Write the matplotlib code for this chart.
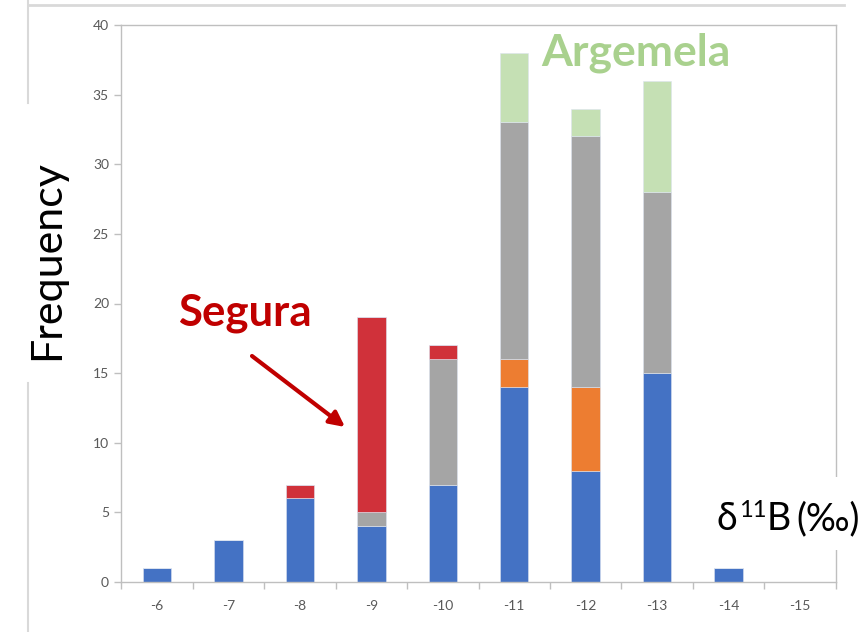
import matplotlib
matplotlib.use("Agg")
import matplotlib.pyplot as plt
from matplotlib.lines import Line2D
from matplotlib.patches import Rectangle
import numpy as np

# delta-11B classes (per mil) and counts per group
categories = ["-6", "-7", "-8", "-9", "-10", "-11", "-12", "-13", "-14", "-15"]
blue = [1, 3, 6, 4, 7, 14, 8, 15, 1, 0]
orange = [0, 0, 0, 0, 0, 2, 6, 0, 0, 0]
gray = [0, 0, 0, 1, 9, 17, 18, 13, 0, 0]
red = [0, 0, 1, 14, 1, 0, 0, 0, 0, 0]
green = [0, 0, 0, 0, 0, 5, 2, 8, 0, 0]
y_ticks = [0, 5, 10, 15, 20, 25, 30, 35, 40]

series = [
    (blue, "#4472C4"),
    (orange, "#ED7D31"),
    (gray, "#A5A5A5"),
    (red, "#D0313A"),
    (green, "#C5E0B4"),
]

FONT = ["Lato", "DejaVu Sans"]
plt.rcParams["font.family"] = FONT

W, H = 868, 632
fig = plt.figure(figsize=(W / 100, H / 100), dpi=100)
ax = fig.add_axes([121.5 / W, 50 / H, (835.5 - 121.5) / W, (582 - 25) / H])

x = np.arange(len(categories))
bottom = np.zeros(len(categories))
for vals, col in series:
    v = np.array(vals, dtype=float)
    ax.bar(x, v, width=0.4, bottom=bottom, color=col,
           edgecolor="#DCE3F0", linewidth=0.4, zorder=2)
    bottom += v

ax.set_xlim(-0.5, len(categories) - 0.5)
ax.set_ylim(0, 40)
ax.set_yticks(y_ticks)
ax.set_yticklabels([str(t) for t in y_ticks])
ax.set_xticks(x)
ax.set_xticklabels(categories)
ax.set_xticks(np.arange(-0.5, len(categories), 1.0), minor=True)

axis_col = "#BFBFBF"
for s in ax.spines.values():
    s.set_color(axis_col)
    s.set_linewidth(1.0)

ax.tick_params(axis="x", which="major", length=0, pad=13,
               labelsize=10, labelcolor="#595959")
ax.tick_params(axis="x", which="minor", length=5, color=axis_col, width=1.0)
ax.tick_params(axis="y", which="major", length=5, color=axis_col, width=1.0,
               labelsize=10, labelcolor="#595959", pad=4)

# outer frame lines of the slide panel (broken behind the axis title)
frame_col = "#D9D9D9"
xf = 28.5 / W
fig.add_artist(Line2D([xf, xf], [1 - 103 / H, 1], color=frame_col,
                      linewidth=1.5, transform=fig.transFigure, zorder=0))
fig.add_artist(Line2D([xf, xf], [0, 1 - 383 / H], color=frame_col,
                      linewidth=1.5, transform=fig.transFigure, zorder=0))
fig.add_artist(Line2D([xf, 844 / W], [1 - 4.7 / H, 1 - 4.7 / H],
                      color=frame_col, linewidth=2.0,
                      transform=fig.transFigure, zorder=0))

# axis titles and group labels
fig.text(47 / W, 1 - 260 / H, "Frequency", rotation=90, ha="center",
         va="center", fontsize=31, color="black", zorder=5)

fig.text(245 / W, 1 - 313 / H, "Segura", ha="center", va="center",
         fontsize=31.5, fontweight="bold", color="#C00000", zorder=5)

fig.text(636 / W, 1 - 53 / H, "Argemela", ha="center", va="center",
         fontsize=32, fontweight="bold", color="#A9D18E", zorder=5)

# white box hiding the plot border behind the x-axis title
fig.add_artist(Rectangle((705 / W, 1 - 550 / H), 163 / W, 73 / H,
                         facecolor="white", edgecolor="none",
                         transform=fig.transFigure, zorder=4))

# x-axis title built from pieces so the superscript sits like typeset text
renderer = fig.canvas.get_renderer()
base_y = 1 - 530 / H
pieces = [("δ", 27, 0, 0), ("11", 17, 13, 1), ("B", 27, 0, 1),
          ("(‰)", 27, 0, 5)]
cur_x = 717.0
for txt, size, rise, gap in pieces:
    t = fig.text((cur_x + gap) / W, base_y + rise / H, txt, ha="left",
                 va="baseline", fontsize=size, color="black", zorder=5)
    cur_x = t.get_window_extent(renderer).x1

ax.annotate("", xy=(345 / W, 1 - 427 / H), xytext=(252 / W, 1 - 356 / H),
            xycoords="figure fraction", textcoords="figure fraction",
            arrowprops=dict(arrowstyle="-|>,head_length=0.9,head_width=0.45",
                            color="#C00000", linewidth=3.0,
                            shrinkA=0, shrinkB=0))

fig.savefig("out.png", dpi=100, facecolor="white")
